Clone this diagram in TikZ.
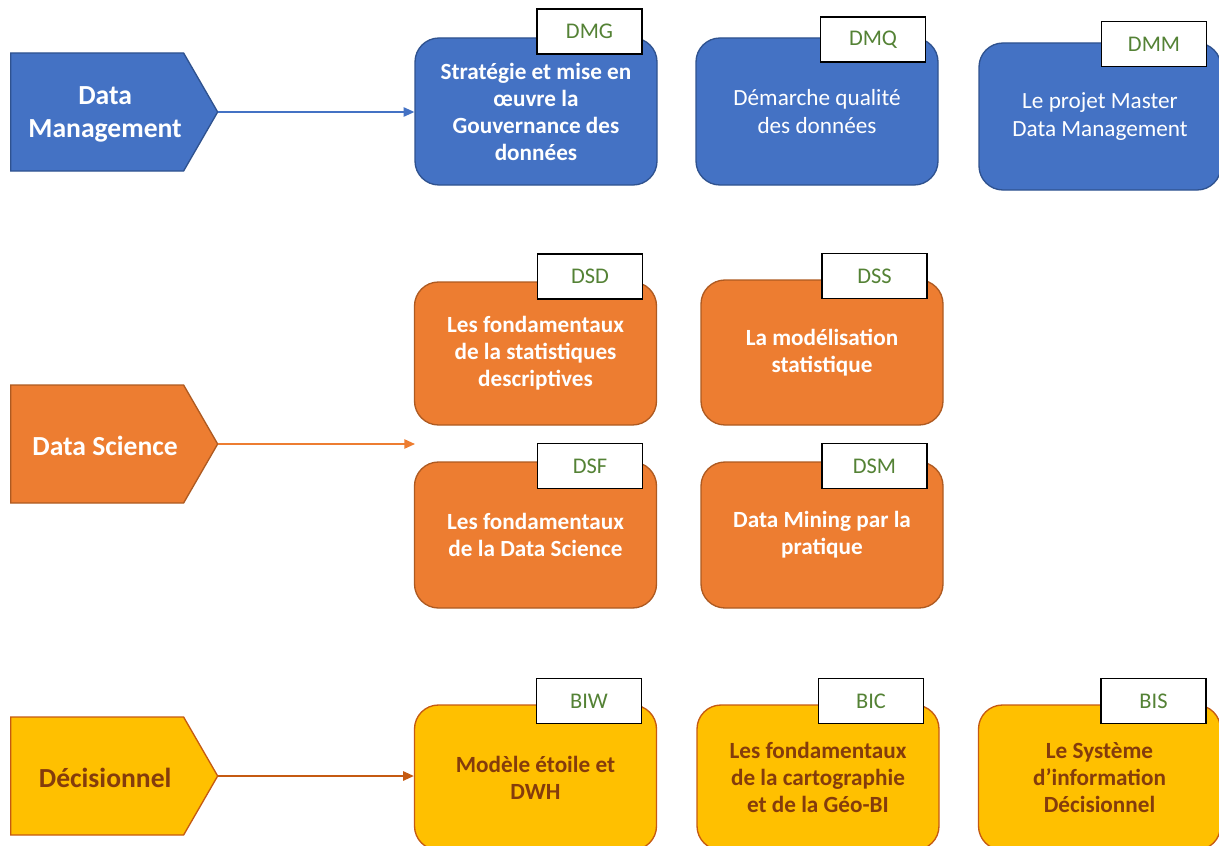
\documentclass[tikz,border=0pt]{standalone}
\usepackage{fontspec}
\setmainfont{Carlito}
\usetikzlibrary{shapes.symbols,arrows.meta}
\definecolor{bfill}{HTML}{4472C4}
\definecolor{bdraw}{HTML}{2F528F}
\definecolor{ofill}{HTML}{ED7D31}
\definecolor{odraw}{HTML}{AE5A21}
\definecolor{yfill}{HTML}{FFC000}
\definecolor{ydraw}{HTML}{C55A11}
\definecolor{ytext}{HTML}{843C0C}
\definecolor{tagc}{HTML}{548235}
\begin{document}
\begin{tikzpicture}[x=0.75pt,y=-0.75pt,
  cat/.style={signal, signal to=east, signal pointer angle=120,
    minimum width=155.25pt, minimum height=88.5pt, line width=1pt,
    anchor=west, inner sep=0pt},
  cattext/.style={align=center, xshift=6pt, yshift=-1.5pt,
    font=\bfseries\fontsize{20.7}{24.75}\selectfont},
  course/.style={draw, rounded corners=18pt, minimum width=181.5pt,
    line width=1pt, align=center, inner sep=2pt,
    font=\bfseries\fontsize{17.4}{20.25}\selectfont},
  plain/.style={font=\fontsize{17.4}{20.5}\selectfont},
  tag/.style={draw=black, fill=white, line width=1.3pt,
    minimum width=78.75pt, minimum height=33.75pt, inner sep=0pt,
    font=\fontsize{16.8}{18}\selectfont, text=tagc},
  blue/.style={course, fill=bfill, draw=bdraw, text=white},
  orange/.style={course, fill=ofill, draw=odraw, text=white},
  yellow/.style={course, fill=yfill, draw=ydraw, text=ytext},
  conn/.style={line width=1.1pt, -{Triangle[length=8pt,width=7pt]}}
]
\useasboundingbox (0,0) rectangle (1219,845);

% categories
\node[cat, fill=bfill, draw=bdraw,
  label={[cattext, text=white]center:{Data\\Management}}] (dm) at (10,112) {};
\node[cat, fill=ofill, draw=odraw,
  label={[cattext, text=white]center:{Data Science}}] (ds) at (10,444) {};
\node[cat, fill=yfill, draw=ydraw,
  label={[cattext, text=ytext]center:{Décisionnel}}] (dec) at (10,776) {};

% Data management
\node[blue, minimum height=110.25pt] (dmgb) at (536,111.5) {Stratégie et mise en\\œuvre la\\Gouvernance des\\données};
\node[blue, plain, minimum height=110.25pt] (dmqb) at (817,111.5) {Démarche qualité\\des données};
\node[blue, plain, minimum height=110.25pt] (dmmb) at (1100,116.5) {Le projet Master\\Data Management};
\node[tag] (dmg) at (589.5,31.5) {DMG};
\node[tag] (dmq) at (873,39.5) {DMQ};
\node[tag] (dmm) at (1154,44) {DMM};

% Data science
\node[orange, minimum height=107.25pt] (dsdb) at (535.5,353.5) {Les fondamentaux\\de la statistiques\\descriptives};
\node[orange, minimum height=108.75pt] (dssb) at (822,352.5) {La modélisation\\statistique};
\node[orange, minimum height=109.5pt] (dsfb) at (535.5,535) {Les fondamentaux\\de la Data Science};
\node[orange, minimum height=109.5pt] (dsmb) at (822,535) {Data Mining par la\\pratique};
\node[tag] (dsd) at (590,276.5) {DSD};
\node[tag] (dss) at (874.5,276) {DSS};
\node[tag] (dsf) at (590,466) {DSF};
\node[tag] (dsm) at (874.5,466) {DSM};

% Decisionnel
\node[yellow, minimum height=108.75pt] (biwb) at (535.5,777.5) {Modèle étoile et\\DWH};
\node[yellow, minimum height=108.75pt] (bicb) at (818,777.5) {Les fondamentaux\\de la cartographie\\et de la Géo-BI};
\node[yellow, minimum height=108.75pt] (bisb) at (1099.5,777.5) {Le Système\\d’information\\Décisionnel};
\node[tag] (biw) at (589,701) {BIW};
\node[tag] (bic) at (871,701) {BIC};
\node[tag] (bis) at (1153.5,701) {BIS};

% connectors
\coordinate (dsend) at (415,444);
\draw[conn, bfill] (dm.east) -- (dm.east -| dmgb.west);
\draw[conn, ofill] (ds.east) -- (dsend);
\draw[conn, ydraw] (dec.east) -- (dec.east -| biwb.west);
\end{tikzpicture}
\end{document}
